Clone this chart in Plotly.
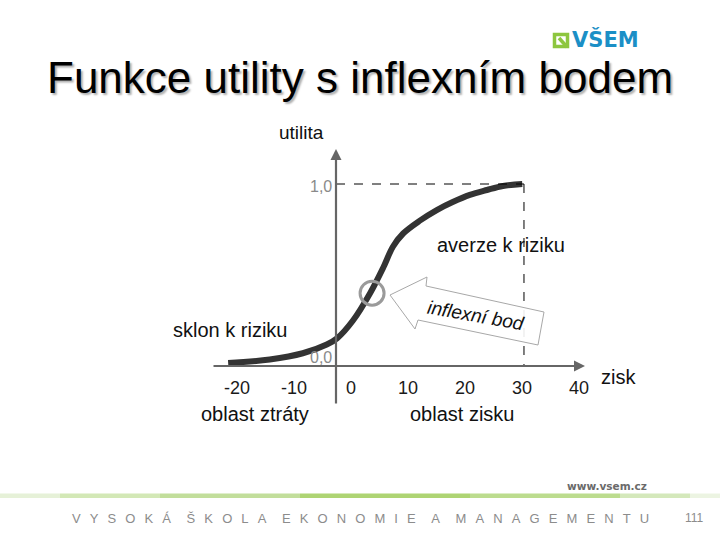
import plotly.graph_objects as go

# ---------------- data ----------------
zisk = [-21.5, -14.2, -8.4, -4.2, -2.4, 0.4, 3.4, 5.7, 7.4, 9.2, 12.2, 15.1, 17.9, 20.9, 23.9, 26.7, 30.1]
utilita = [0.016, 0.036, 0.070, 0.118, 0.152, 0.250, 0.400, 0.540, 0.655, 0.728, 0.800, 0.857, 0.901, 0.940, 0.967, 0.989, 1.0]
inflex_zisk = [3.75]
inflex_utilita = [0.40]
tick_vals = [-20, -10, 0, 10, 20, 30, 40]
tick_text = ["-20", "-10", "0", "10", "20", "30", "40"]
util_vals = [0.0, 1.0]
util_text = ["0,0", "1,0"]
zisk_max = 30.4

# ---------------- geometry helpers (pixel layout of the slide) ----------------
X0, XS = 350.7, 5.7     # px of zisk 0, px per unit
Y0, YS = 366.0, 182.0   # px of utility 0, px per unit
W, H = 720, 540


def fx(px):
    return (px - X0) / XS


def fy(py):
    return (Y0 - py) / YS


def xp(px):
    return px / W


def yp(py):
    return 1 - py / H


FONT = "Arial, Liberation Sans, sans-serif"

fig = go.Figure()

# S-shaped utility curve
fig.add_trace(go.Scatter(
    x=zisk, y=utilita, mode="lines",
    line=dict(color="#333333", width=6, shape="spline", smoothing=1.0),
    hoverinfo="skip", showlegend=False))

# inflection point marker
fig.add_trace(go.Scatter(
    x=inflex_zisk, y=inflex_utilita, mode="markers",
    marker=dict(symbol="circle-open", size=24, line=dict(color="#9a9a9a", width=3), color="#9a9a9a"),
    hoverinfo="skip", showlegend=False))

shapes = []
annotations = []

# dashed guide lines
x_axis_pos = fx(336)
shapes.append(dict(type="line", xref="x", yref="y", x0=x_axis_pos, x1=zisk_max, y0=1.0, y1=1.0,
                   line=dict(color="#000000", width=1, dash="dash")))
shapes.append(dict(type="line", xref="x", yref="y", x0=zisk_max, x1=zisk_max, y0=1.0, y1=0.0,
                   line=dict(color="#000000", width=1, dash="dash")))

# axes with arrows
annotations.append(dict(x=x_axis_pos, y=fy(149), ax=x_axis_pos, ay=fy(405), xref="x", yref="y",
                        axref="x", ayref="y", text="", showarrow=True, arrowhead=2, arrowsize=1,
                        arrowwidth=2.2, arrowcolor="#666666"))
annotations.append(dict(x=fx(585), y=0, ax=fx(212), ay=0, xref="x", yref="y",
                        axref="x", ayref="y", text="", showarrow=True, arrowhead=2, arrowsize=1,
                        arrowwidth=2.2, arrowcolor="#666666"))

# callout arrow "inflexní bod"
pts = [(390, 295), (427, 277), (426, 286), (544, 312), (538, 345), (418, 320), (415, 329)]
path = "M " + " L ".join(f"{fx(a):.4f},{fy(b):.4f}" for a, b in pts) + " Z"
shapes.append(dict(type="path", xref="x", yref="y", path=path,
                   line=dict(color="#a8a8a8", width=1), fillcolor="rgba(255,255,255,0.9)"))
annotations.append(dict(x=fx(476), y=fy(315), xref="x", yref="y", text="inflexní bod", textangle=10,
                        showarrow=False, xanchor="center", yanchor="middle",
                        font=dict(family=FONT, size=19, color="#111111", style="italic")))

# tick labels on zisk axis
for v, t in zip(tick_vals, tick_text):
    annotations.append(dict(x=v, y=fy(388), xref="x", yref="y", text=t, showarrow=False,
                            xanchor="center", yanchor="middle",
                            font=dict(family=FONT, size=18, color="#1a1a1a")))
# utility labels
for v, t in zip(util_vals, util_text):
    annotations.append(dict(x=fx(334), y=v + (0.045 if v == 0 else -0.015), xref="x", yref="y", text=t,
                            showarrow=False, xanchor="right", yanchor="middle",
                            font=dict(family=FONT, size=16, color="#8a8a8a")))


# other chart texts
def txt(text, px, py, size, color="#111111", xanchor="center", family=FONT, **fkw):
    annotations.append(dict(x=xp(px), y=yp(py), xref="paper", yref="paper", text=text,
                            showarrow=False, xanchor=xanchor, yanchor="middle",
                            font=dict(family=family, size=size, color=color, **fkw)))


txt("utilita", 301, 133, 19)
txt("averze k riziku", 501, 245, 20)
txt("sklon k riziku", 230, 330, 20)
txt("oblast ztráty", 255, 414, 20)
txt("oblast zisku", 462, 414, 20)
txt("zisk", 618, 377, 20)

# title
txt("Funkce utility s inflexním bodem", 360, 77.5, 44, color="#000000", shadow="2px 2px 2px #b0b0b0")

# logo
shapes.append(dict(type="rect", xref="paper", yref="paper", x0=xp(554.5), x1=xp(567.5), y0=yp(46.5), y1=yp(34.5),
                   fillcolor="#ffffff", line=dict(width=3.5, color="#8dc63f")))
shapes.append(dict(type="line", xref="paper", yref="paper", x0=xp(559), x1=xp(567), y0=yp(38), y1=yp(47),
                   line=dict(width=3.5, color="#8dc63f")))
txt("<b>VŠEM</b>", 570, 39.5, 21, color="#1b8fc6", xanchor="left", family="DejaVu Sans, sans-serif")

# footer
greens = [(0, 60, "#e6f1d8"), (60, 160, "#d3e8b6"), (160, 300, "#c2de9b"), (300, 470, "#aed473"),
          (470, 620, "#bcdc8e"), (620, 690, "#d4e8bb"), (690, 720, "#ecf4e2")]
for a, b, c in greens:
    shapes.append(dict(type="rect", xref="paper", yref="paper", x0=xp(a), x1=xp(b), y0=yp(498), y1=yp(493.5),
                       fillcolor=c, line=dict(width=0)))
txt("<b>www.vsem.cz</b>", 649, 486, 10.5, color="#6a6a6a", xanchor="right", family="DejaVu Sans, sans-serif")
sp = "\u2002\u2009"
words = ["VYSOKÁ", "ŠKOLA", "EKONOMIE", "A", "MANAGEMENTU"]
footer = (sp + "\u2002").join(sp.join(w) for w in words)
txt(footer, 70, 518, 13, color="#8c8c8c", xanchor="left")
txt("111", 706, 518, 12, color="#8c8c8c", xanchor="right")

fig.update_layout(
    width=W, height=H, margin=dict(l=0, r=0, t=0, b=0),
    paper_bgcolor="#ffffff", plot_bgcolor="#ffffff",
    xaxis=dict(range=[fx(0), fx(W)], visible=False, fixedrange=True),
    yaxis=dict(range=[fy(H), fy(0)], visible=False, fixedrange=True),
    shapes=shapes, annotations=annotations, showlegend=False,
)

fig.write_html("out.html", config={"displayModeBar": False},
               post_script="document.body.style.margin='0px';document.body.style.overflow='hidden';")
